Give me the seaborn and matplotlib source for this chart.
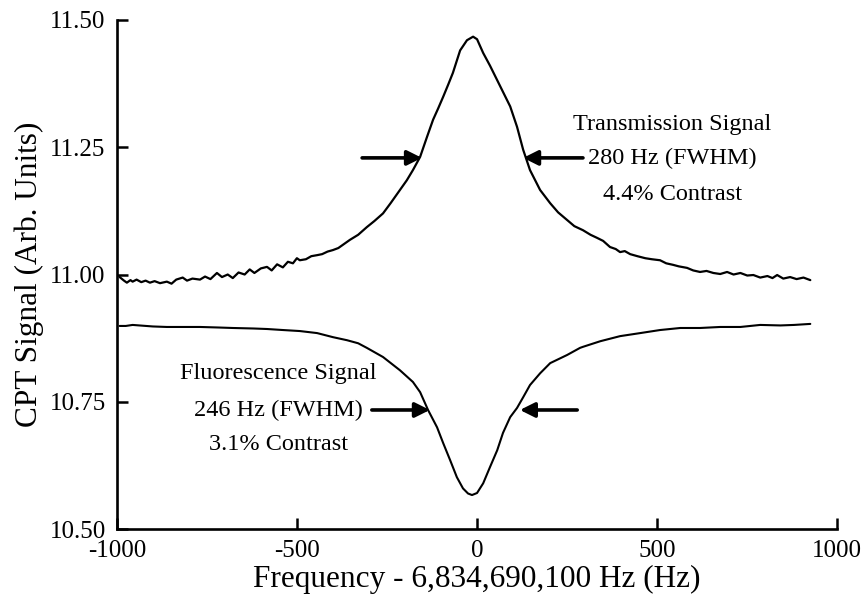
import numpy as np
import pandas as pd
import matplotlib
matplotlib.use('Agg')
import matplotlib.pyplot as plt
import seaborn as sns

# Transmission signal
freq_trans = [-992, -980, -972, -962, -956, -945, -932, -920, -908, -895,
              -880, -861, -848, -835, -817, -805, -790, -769, -755, -740,
              -722, -708, -692, -678, -662, -645, -631, -618, -600, -583,
              -570, -555, -539, -525, -511, -500, -492, -475, -460, -444,
              -430, -415, -400, -385, -361, -353, -330, -306, -285, -261,
              -240, -214, -195, -178, -158, -139, -122, -108, -94, -80, -67, -47,
              -28, -11, 0, 17, 36, 64, 92, 111, 128, 147,
              175, 203, 225, 250, 270, 294, 315, 333, 350, 369,
              385, 397, 410, 425, 445, 467, 485, 508, 525, 544,
              560, 583, 600, 619, 637, 656, 675, 694, 712, 731,
              750, 767, 786, 806, 820, 833, 850, 869, 887, 906, 925]
sig_trans = [10.995, 10.988, 10.984, 10.989, 10.986, 10.990, 10.985, 10.988, 10.984, 10.987,
             10.983, 10.986, 10.982, 10.990, 10.994, 10.988, 10.992, 10.990, 10.996, 10.991,
             11.003, 10.995, 11.000, 10.993, 11.004, 11.000, 11.010, 11.003, 11.012, 11.015,
             11.008, 11.020, 11.014, 11.025, 11.022, 11.032, 11.028, 11.030, 11.036, 11.038,
             11.040, 11.045, 11.048, 11.052, 11.064, 11.068, 11.078, 11.093, 11.105, 11.120,
             11.140, 11.166, 11.185, 11.205, 11.231, 11.270, 11.304, 11.326, 11.349, 11.373, 11.396, 11.440,
             11.460, 11.467, 11.462, 11.435, 11.410, 11.370, 11.330, 11.290, 11.245, 11.205,
             11.166, 11.140, 11.122, 11.107, 11.095, 11.087, 11.078, 11.072, 11.066, 11.054,
             11.050, 11.044, 11.046, 11.040, 11.036, 11.032, 11.030, 11.028, 11.022, 11.019,
             11.016, 11.013, 11.008, 11.005, 11.007, 11.003, 11.001, 11.005, 11.000, 11.003,
             10.998, 10.999, 10.994, 10.997, 10.993, 10.999, 10.992, 10.995, 10.991, 10.994, 10.989]

# Fluorescence signal
freq_fluo = [-992, -975, -956, -900, -861, -800, -769, -720, -678, -620,
             -583, -539, -492, -444, -400, -361, -330, -306, -261, -214,
             -178, -158, -136, -111, -94, -75, -56, -39, -25, -14,
             0, 17, 36, 56, 72, 92, 111, 128, 147, 175,
             203, 250, 286, 294, 342, 397, 453, 508, 564, 619,
             675, 731, 786, 842, 880, 925]
sig_fluo = [10.899, 10.899, 10.901, 10.898, 10.897, 10.897, 10.897, 10.896, 10.895, 10.894,
            10.893, 10.891, 10.889, 10.885, 10.877, 10.871, 10.865, 10.856, 10.838, 10.812,
            10.789, 10.769, 10.734, 10.700, 10.669, 10.636, 10.602, 10.580, 10.570, 10.567,
            10.571, 10.590, 10.622, 10.655, 10.689, 10.720, 10.738, 10.759, 10.783, 10.806,
            10.826, 10.842, 10.856, 10.858, 10.869, 10.879, 10.885, 10.891, 10.895, 10.895,
            10.897, 10.897, 10.901, 10.900, 10.901, 10.903]

x_ticks = [-1000, -500, 0, 500, 1000]
y_ticks = [10.50, 10.75, 11.00, 11.25, 11.50]

trans_text = ['Transmission Signal', '280 Hz (FWHM)', '4.4% Contrast']
fluo_text = ['Fluorescence Signal', '246 Hz (FWHM)', '3.1% Contrast']

sns.set_style('ticks')
plt.rcParams['font.family'] = ['Liberation Serif', 'DejaVu Serif']
plt.rcParams['text.color'] = 'black'
plt.rcParams['axes.labelcolor'] = 'black'
plt.rcParams['xtick.color'] = 'black'
plt.rcParams['ytick.color'] = 'black'

fig = plt.figure(figsize=(8.65, 6.02), dpi=100)
ax = fig.add_axes([0.135, 0.121, 0.833, 0.846])

sns.lineplot(x=freq_trans, y=sig_trans, color='black', lw=1.6, ax=ax)
sns.lineplot(x=freq_fluo, y=sig_fluo, color='black', lw=1.5, ax=ax)

ax.set_xlim(-1000, 1000)
ax.set_ylim(10.5, 11.5)
ax.set_xticks(x_ticks)
ax.set_xticklabels([str(t) for t in x_ticks])
ax.set_yticks(y_ticks)
ax.set_yticklabels([f'{t:.2f}' for t in y_ticks])
ax.tick_params(direction='in', length=8, width=1.8, labelsize=18, pad=8,
               color='black', labelcolor='black')
sns.despine(ax=ax)
for s in ['left', 'bottom']:
    ax.spines[s].set_linewidth(1.9)
    ax.spines[s].set_color('black')

ax.set_xlabel('Frequency - 6,834,690,100 Hz (Hz)', fontsize=22.5, labelpad=2, color='black')
ax.set_ylabel('CPT Signal (Arb. Units)', fontsize=22.5, labelpad=4, color='black')

# annotation text
for txt, yy in zip(trans_text, [11.294, 11.227, 11.158]):
    ax.text(542, yy, txt, ha='center', va='center', fontsize=17.5, color='black')
for txt, yy in zip(fluo_text, [10.806, 10.734, 10.667]):
    ax.text(-552, yy, txt, ha='center', va='center', fontsize=17.5, color='black')

# FWHM arrows
arrow = dict(arrowstyle='-|>', lw=2.6, color='black', mutation_scale=22,
             shrinkA=0, shrinkB=0)
ax.annotate('', xy=(-153, 11.229), xytext=(-319, 11.229), arrowprops=arrow)
ax.annotate('', xy=(128, 11.229), xytext=(294, 11.229), arrowprops=arrow)
ax.annotate('', xy=(-131, 10.734), xytext=(-292, 10.734), arrowprops=arrow)
ax.annotate('', xy=(119, 10.734), xytext=(278, 10.734), arrowprops=arrow)

plt.savefig('out.png', dpi=100)
